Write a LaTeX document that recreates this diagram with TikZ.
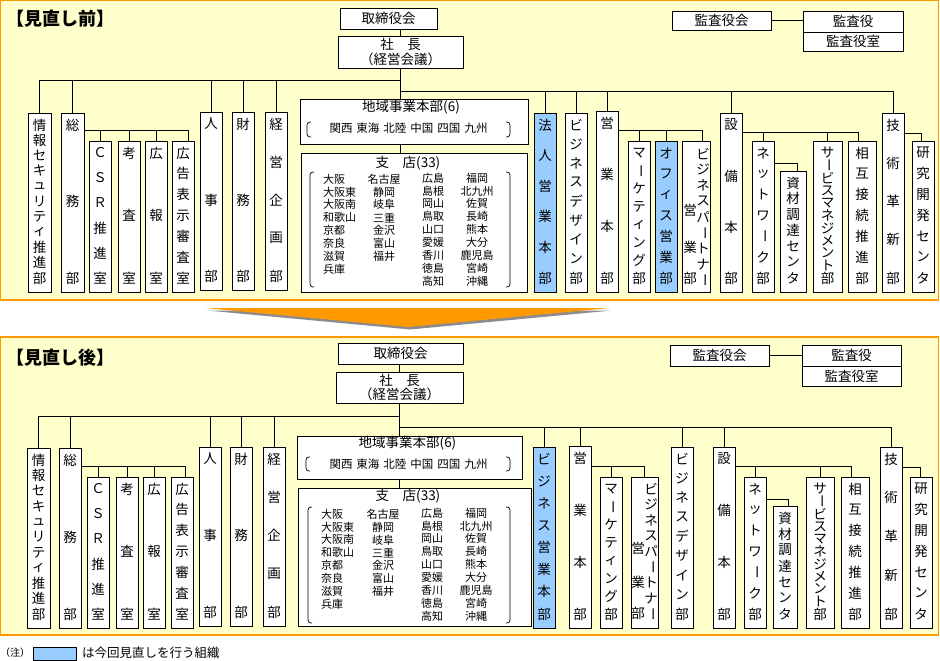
\documentclass[tikz,border=0pt]{standalone}
\usepackage{fontspec}
\setmainfont{Noto Sans CJK JP}
\definecolor{panelY}{HTML}{FFFFCC}
\definecolor{panelO}{HTML}{FF9900}
\definecolor{hiB}{HTML}{99CCFF}
\tikzset{
 box/.style={draw=black, fill=white, line width=0.8pt, inner sep=0pt, font=\fontsize{13.5}{14.5}\selectfont},
 vch/.style={inner sep=0pt, font=\fontsize{13.5}{14}\selectfont},
 conn/.style={draw=black, line width=0.8pt},
 brk/.style={draw=black, line width=0.7pt, rounded corners=3pt},
 br/.style={inner sep=0pt, font=\fontsize{11}{12}\selectfont},
 lbl/.style={inner sep=0pt, font=\fontsize{13.5}{14}\selectfont},
 panel/.style={draw=panelO, fill=panelY, line width=1.2pt},
 ttl/.style={anchor=west, inner sep=0pt, font=\fontsize{18}{20}\selectfont\bfseries},
}
\newcommand{\boxat}[7]{\node[box,#6,minimum width={(#4-#2)*1pt},minimum height={(#5-#3)*1pt}] (#1) at ({(#2+#4)/2},{(#3+#5)/2}) {#7};}
\newcommand{\orgcol}[8]{%
 \boxat{#1}{#2}{#3}{#4}{#5}{fill=#6}{}%
 \foreach \ch [count=\i] in {#8} {\node[vch] (#1-\i) at ({(#2+#4)/2},{#3+12+(\i-1)*(#5-#3-26)/(#7-1)}) {\ch};}%
}
\newcommand{\vb}{\rotatebox[origin=c]{-90}{ー}}
\newcommand{\brcol}[5]{\foreach \b [count=\i] in {#5} {\node[br,anchor=#4] (#1-\i) at (#2,{#3+(\i-1)*12.9}) {\b};}}
\newcommand{\lbrk}[3]{\draw[brk] (#1+4,#2) -- (#1,#2) -- (#1,#3) -- (#1+4,#3);}
\newcommand{\rbrk}[3]{\draw[brk] (#1-4,#2) -- (#1,#2) -- (#1,#3) -- (#1-4,#3);}
\begin{document}
\begin{tikzpicture}[x=1pt,y=-1pt]
\useasboundingbox (0,0) rectangle (940,661);
% ================= TOP PANEL =================
\draw[panel] (0.7,0.7) rectangle (938.5,300);
\node[ttl] (t1) at (6,18.5) {【見直し前】};
\boxat{tori}{340}{8}{437}{29}{}{取締役会}
\boxat{sha}{338}{36}{463}{68}{align=center}{社　長\\（経営会議）}
\boxat{kaikai}{672}{11}{771}{30}{}{監査役会}
\boxat{kyaku}{803}{11}{903}{32}{}{監査役}
\boxat{kshitsu}{803}{32}{903}{51}{}{監査役室}
\draw[conn] (kaikai.east) -- (kaikai.east -| kyaku.west);
\boxat{chiiki}{300}{99}{528}{144}{}{}
\node[lbl] (chiikiT) at (411,107) {地域事業本部(6)};
\node[lbl,font=\fontsize{11.5}{12}\selectfont] (chiikiL) at (408.5,128) {関西\hspace{4pt}東海\hspace{4pt}北陸\hspace{4pt}中国\hspace{4pt}四国\hspace{4pt}九州};
\lbrk{307}{122}{137}\rbrk{510}{122}{137}
\boxat{shiten}{301}{153}{527}{292}{}{}
\node[lbl] (shitenT) at (408,163) {支　店(33)};
\lbrk{310}{172}{287}\rbrk{510}{172}{287}
\brcol{a1}{323}{179}{west}{大阪,大阪東,大阪南,和歌山,京都,奈良,滋賀,兵庫}
\brcol{a2}{384}{179}{center}{名古屋,静岡,岐阜,三重,金沢,富山,福井}
\brcol{a3}{433}{178}{center}{広島,島根,岡山,鳥取,山口,愛媛,香川,徳島,高知}
\brcol{a4}{477}{178}{center}{福岡,北九州,佐賀,長崎,熊本,大分,鹿児島,宮崎,沖縄}
\draw[conn] (sha.north) -- (sha.north |- tori.south);
\draw[conn] (sha.south) -- (sha.south |- chiiki.north);
\draw[conn] (sha.south |- chiiki.south) -- (sha.south |- shiten.north);
% left columns
\orgcol{joho}{28}{113}{51}{292}{white}{11}{情,報,セ,キ,ュ,リ,テ,ィ,推,進,部}
\orgcol{somu}{61}{113}{84}{292}{white}{3}{総,務,部}
\orgcol{csr}{89}{141}{111}{292}{white}{6}{Ｃ,Ｓ,Ｒ,推,進,室}
\orgcol{kosa}{118}{141}{140}{292}{white}{3}{考,査,室}
\orgcol{koho}{145}{141}{167}{292}{white}{3}{広,報,室}
\orgcol{kokoku}{172}{141}{194}{292}{white}{7}{広,告,表,示,審,査,室}
\orgcol{jinji}{200}{112}{222}{290}{white}{3}{人,事,部}
\orgcol{zaimu}{232}{112}{254}{290}{white}{3}{財,務,部}
\orgcol{keiei}{265}{112}{287}{290}{white}{5}{経,営,企,画,部}
% right columns
\orgcol{hojin}{534}{113}{556}{292}{hiB}{6}{法,人,営,業,本,部}
\orgcol{bizdes}{565}{113}{587}{292}{white}{9}{ビ,ジ,ネ,ス,デ,ザ,イ,ン,部}
\orgcol{eigyo}{596}{111}{618}{292}{white}{4}{営,業,本,部}
\orgcol{mkt}{628}{141}{650}{292}{white}{8}{マ,\vb,ケ,テ,ィ,ン,グ,部}
\orgcol{office}{655}{141}{677}{292}{hiB}{7}{オ,フ,ィ,ス,営,業,部}
\boxat{bp}{682}{141}{710}{292}{}{}
\foreach \ch [count=\i] in {ビ,ジ,ネ,ス,パ,\vb,ト,ナ,\vb} {\node[vch] (bpR-\i) at (703,{154+(\i-1)*15.75}) {\ch};}
\node[vch] (bpL-1) at (690,210) {営};
\node[vch] (bpL-2) at (690,247) {業};
\node[vch] (bpL-3) at (690,278) {部};
\orgcol{setsubi}{720}{113}{742}{292}{white}{4}{設,備,本,部}
\orgcol{network}{752}{141}{774}{292}{white}{7}{ネ,ッ,ト,ワ,\vb,ク,部}
\orgcol{shizai}{780}{171}{806}{292}{white}{7}{資,材,調,達,セ,ン,タ}
\orgcol{svc}{813}{141}{842}{292}{white}{11}{サ,\vb,ビ,ス,マ,ネ,ジ,メ,ン,ト,部}
\orgcol{sogo}{848}{141}{876}{292}{white}{7}{相,互,接,続,推,進,部}
\orgcol{gijutsu}{882}{113}{904}{292}{white}{5}{技,術,革,新,部}
\orgcol{kenkyu}{912}{141}{934}{292}{white}{7}{研,究,開,発,セ,ン,タ}
% buses top
\coordinate (bL1) at (0,80);
\coordinate (bR1) at (0,91);
\coordinate (sS1) at (0,130);
\coordinate (sT1) at (0,132);
\coordinate (nS1) at (0,163);
\coordinate (gK1) at (0,133);
\draw[conn] (joho.north) |- (sha.south |- bL1);
\foreach \n in {somu,jinji,zaimu,keiei} \draw[conn] (\n.north) -- (\n.north |- bL1);
\draw[conn] (gijutsu.north) |- (sha.south |- bR1);
\foreach \n in {hojin,bizdes,eigyo,setsubi} \draw[conn] (\n.north) -- (\n.north |- bR1);
\draw[conn] ([xshift=5]kokoku.north) |- (somu.east |- sS1);
\foreach \n in {csr,kosa,koho} \draw[conn] (\n.north) -- (\n.north |- sS1);
\draw[conn] ([xshift=6]bp.north) |- (eigyo.east |- sS1);
\foreach \n in {mkt,office} \draw[conn] (\n.north) -- (\n.north |- sS1);
\draw[conn] ([xshift=-4]sogo.north) |- (setsubi.east |- sT1);
\foreach \n in {network,svc} \draw[conn] (\n.north) -- (\n.north |- sT1);
\draw[conn] ([xshift=4]shizai.north) |- (network.east |- nS1);
\draw[conn] ([xshift=-2]kenkyu.north) |- (gijutsu.east |- gK1);
% ================= ARROW =================
\fill[black!45] (207,310.5) -- (612,310.5) -- (410,329.5) -- cycle;
\fill[panelO] (205,308) -- (610,308) -- (408,327) -- cycle;
% ================= BOTTOM PANEL =================
\draw[panel] (0.7,337) rectangle (938.5,635);
\node[ttl] (t2) at (6,357.5) {【見直し後】};
\boxat{tori2}{338}{343}{463}{364}{}{取締役会}
\boxat{sha2}{336}{372}{463}{403}{align=center}{社　長\\（経営会議）}
\boxat{kaikai2}{670}{345}{769}{366}{}{監査役会}
\boxat{kyaku2}{802}{345}{901}{366}{}{監査役}
\boxat{kshitsu2}{802}{366}{901}{386}{}{監査役室}
\draw[conn] (kaikai2.east) -- (kaikai2.east -| kyaku2.west);
\boxat{chiiki2}{297}{436}{522}{479}{}{}
\node[lbl] (chiikiT2) at (407.5,443) {地域事業本部(6)};
\node[lbl,font=\fontsize{11.5}{12}\selectfont] (chiikiL2) at (408.5,464) {関西\hspace{4pt}東海\hspace{4pt}北陸\hspace{4pt}中国\hspace{4pt}四国\hspace{4pt}九州};
\lbrk{306}{457}{471}\rbrk{510}{457}{471}
\boxat{shiten2}{298}{488}{531}{626}{}{}
\node[lbl] (shitenT2) at (408,496) {支　店(33)};
\lbrk{308}{507}{623}\rbrk{510}{507}{623}
\brcol{b1}{321}{514}{west}{大阪,大阪東,大阪南,和歌山,京都,奈良,滋賀,兵庫}
\brcol{b2}{383}{514}{center}{名古屋,静岡,岐阜,三重,金沢,富山,福井}
\brcol{b3}{432}{513}{center}{広島,島根,岡山,鳥取,山口,愛媛,香川,徳島,高知}
\brcol{b4}{476}{513}{center}{福岡,北九州,佐賀,長崎,熊本,大分,鹿児島,宮崎,沖縄}
\draw[conn] (sha2.north) -- (sha2.north |- tori2.south);
\draw[conn] (sha2.south) -- (sha2.south |- chiiki2.north);
\draw[conn] (sha2.south |- chiiki2.south) -- (sha2.south |- shiten2.north);
\orgcol{joho2}{27}{448}{50}{628}{white}{11}{情,報,セ,キ,ュ,リ,テ,ィ,推,進,部}
\orgcol{somu2}{59}{448}{81}{628}{white}{3}{総,務,部}
\orgcol{csr2}{87}{477}{109}{628}{white}{6}{Ｃ,Ｓ,Ｒ,推,進,室}
\orgcol{kosa2}{116}{477}{138}{628}{white}{3}{考,査,室}
\orgcol{koho2}{143}{477}{165}{628}{white}{3}{広,報,室}
\orgcol{kokoku2}{171}{477}{193}{628}{white}{7}{広,告,表,示,審,査,室}
\orgcol{jinji2}{199}{447}{221}{626}{white}{3}{人,事,部}
\orgcol{zaimu2}{230}{447}{252}{626}{white}{3}{財,務,部}
\orgcol{keiei2}{263}{447}{285}{626}{white}{5}{経,営,企,画,部}
\orgcol{bizeig2}{533}{447}{555}{628}{hiB}{8}{ビ,ジ,ネ,ス,営,業,本,部}
\orgcol{eigyo2}{569}{446}{591}{628}{white}{4}{営,業,本,部}
\orgcol{mkt2}{600}{477}{622}{628}{white}{8}{マ,\vb,ケ,テ,ィ,ン,グ,部}
\boxat{bp2}{631}{477}{658}{628}{}{}
\foreach \ch [count=\i] in {ビ,ジ,ネ,ス,パ,\vb,ト,ナ,\vb} {\node[vch] (bp2R-\i) at (651,{489+(\i-1)*15.6}) {\ch};}
\node[vch] (bp2L-1) at (638,548) {営};
\node[vch] (bp2L-2) at (638,582) {業};
\node[vch] (bp2L-3) at (638,613) {部};
\orgcol{bizdes2}{671}{447}{693}{628}{white}{9}{ビ,ジ,ネ,ス,デ,ザ,イ,ン,部}
\orgcol{setsubi2}{713}{447}{735}{628}{white}{4}{設,備,本,部}
\orgcol{network2}{744}{477}{766}{628}{white}{7}{ネ,ッ,ト,ワ,\vb,ク,部}
\orgcol{shizai2}{773}{506}{797}{628}{white}{7}{資,材,調,達,セ,ン,タ}
\orgcol{svc2}{806}{477}{834}{628}{white}{11}{サ,\vb,ビ,ス,マ,ネ,ジ,メ,ン,ト,部}
\orgcol{sogo2}{841}{477}{869}{628}{white}{7}{相,互,接,続,推,進,部}
\orgcol{gijutsu2}{880}{447}{902}{628}{white}{5}{技,術,革,新,部}
\orgcol{kenkyu2}{910}{477}{932}{628}{white}{7}{研,究,開,発,セ,ン,タ}
\coordinate (bL2) at (0,416);
\coordinate (bR2) at (0,427);
\coordinate (sS2) at (0,466);
\coordinate (nS2) at (0,499);
\coordinate (gK2) at (0,467);
\draw[conn] (joho2.north) |- (sha2.south |- bL2);
\foreach \n in {somu2,jinji2,zaimu2,keiei2} \draw[conn] (\n.north) -- (\n.north |- bL2);
\draw[conn] (gijutsu2.north) |- (sha2.south |- bR2);
\foreach \n in {bizeig2,eigyo2,bizdes2,setsubi2} \draw[conn] (\n.north) -- (\n.north |- bR2);
\draw[conn] ([xshift=3]kokoku2.north) |- (somu2.east |- sS2);
\foreach \n in {csr2,kosa2,koho2} \draw[conn] (\n.north) -- (\n.north |- sS2);
\draw[conn] (bp2.north) |- (eigyo2.east |- sS2);
\draw[conn] (mkt2.north) -- (mkt2.north |- sS2);
\draw[conn] ([xshift=-4]sogo2.north) |- (setsubi2.east |- sS2);
\foreach \n in {network2,svc2} \draw[conn] (\n.north) -- (\n.north |- sS2);
\draw[conn] ([xshift=3]shizai2.north) |- (network2.east |- nS2);
\draw[conn] ([xshift=-1]kenkyu2.north) |- (gijutsu2.east |- gK2);
% ================= NOTE =================
\node[anchor=west, inner sep=0pt, font=\fontsize{10}{11}\selectfont] (noteA) at (0,653) {（注）};
\boxat{legend}{33}{647}{76}{660}{fill=hiB}{}
\node[anchor=west, inner sep=0pt, font=\fontsize{12.5}{13}\selectfont] (noteB) at (82,653) {は今回見直しを行う組織};
\end{tikzpicture}
\end{document}
